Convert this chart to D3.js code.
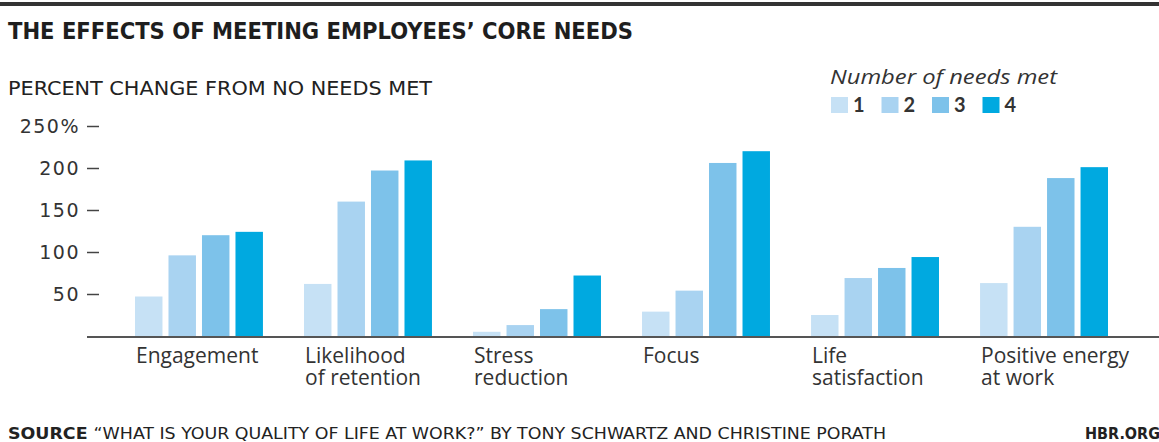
<!DOCTYPE html>
<html>
<head>
<meta charset="utf-8">
<script src="https://cdn.jsdelivr.net/npm/d3@7"></script>
<style>
  body { margin: 0; background: #fff; }
  svg { display: block; }
</style>
</head>
<body>
<svg id="chart"></svg>
<script>
var W = 1159, H = 442;

// data
var categories = [
  ["Engagement"],
  ["Likelihood", "of retention"],
  ["Stress", "reduction"],
  ["Focus"],
  ["Life", "satisfaction"],
  ["Positive energy", "at work"]
];
var series = ["1", "2", "3", "4"];
var needs1 = [47, 62, 5, 29, 25, 63];
var needs2 = [96, 160, 13, 54, 69, 130];
var needs3 = [120, 197, 32, 206, 81, 188];
var needs4 = [124, 209, 72, 220, 94, 201];
var yTicks = [50, 100, 150, 200, 250];
var colors = ["#c6e1f5", "#a9d3f1", "#7dc2ea", "#00a9e0"];

var values = [needs1, needs2, needs3, needs4];

var svg = d3.select("#chart").attr("width", W).attr("height", H);

// top rule
svg.append("rect")
  .attr("x", 0).attr("y", 2).attr("width", W).attr("height", 4)
  .attr("fill", "#333");

svg.append("text")
  .attr("x", 8).attr("y", 39)
  .attr("font-family", "DejaVu Sans Condensed, DejaVu Sans")
  .attr("font-weight", "bold")
  .attr("font-size", 23)
  .attr("fill", "#1e1e1e")
  .attr("textLength", 625)
  .attr("lengthAdjust", "spacingAndGlyphs")
  .text("THE EFFECTS OF MEETING EMPLOYEES\u2019 CORE NEEDS");

svg.append("text")
  .attr("x", 8).attr("y", 95)
  .attr("font-family", "Liberation Sans Narrow, DejaVu Sans Condensed")
  .attr("font-size", 19)
  .attr("fill", "#222")
  .attr("textLength", 424)
  .attr("lengthAdjust", "spacingAndGlyphs")
  .text("PERCENT CHANGE FROM NO NEEDS MET");

// scales
var catIdx = d3.range(categories.length);
var x0 = d3.scaleBand()
  .domain(catIdx)
  .range([135, 1108])
  .paddingInner(0.243)
  .paddingOuter(0);

var x1 = d3.scaleBand()
  .domain(d3.range(series.length))
  .range([0, x0.bandwidth()])
  .paddingInner(0.18);

var y = d3.scaleLinear()
  .domain([0, 250])
  .range([336, 126]);

// y axis
var yAxis = svg.append("g")
  .attr("transform", "translate(99,0)")
  .call(d3.axisLeft(y)
    .tickValues(yTicks)
    .tickSize(12)
    .tickPadding(7)
    .tickFormat(function (d) { return d === 250 ? d + "%" : d; }));
yAxis.select(".domain").remove();
yAxis.selectAll(".tick line").attr("stroke", "#444").attr("stroke-width", 1.5);
yAxis.selectAll(".tick text")
  .attr("font-family", "DejaVu Sans")
  .attr("font-size", 19)
  .attr("letter-spacing", 1.5)
  .attr("fill", "#333");

// bars
var groups = svg.append("g").selectAll("g")
  .data(catIdx)
  .join("g")
  .attr("transform", function (i) { return "translate(" + x0(i) + ",0)"; });

groups.selectAll("rect")
  .data(function (i) { return values.map(function (s, k) { return { k: k, v: s[i] }; }); })
  .join("rect")
  .attr("x", function (d) { return x1(d.k); })
  .attr("y", function (d) { return y(d.v); })
  .attr("width", x1.bandwidth())
  .attr("height", function (d) { return y(0) - y(d.v); })
  .attr("fill", function (d) { return colors[d.k]; });

// baseline
svg.append("line")
  .attr("x1", 87).attr("x2", W)
  .attr("y1", y(0) + 1).attr("y2", y(0) + 1)
  .attr("stroke", "#555").attr("stroke-width", 2);

// category labels, one text per line
catIdx.forEach(function (i) {
  svg.append("g").selectAll("text")
    .data(categories[i])
    .join("text")
    .attr("x", x0(i) + 1)
    .attr("y", function (d, j) { return 363 + j * 22; })
    .attr("font-family", "Open Sans, Noto Sans")
    .attr("font-size", 21)
    .attr("fill", "#333")
    .text(function (d) { return d; });
});

// legend
svg.append("text")
  .attr("x", 830).attr("y", 84)
  .attr("font-family", "Open Sans, Noto Sans")
  .attr("font-style", "italic")
  .attr("font-size", 20)
  .attr("fill", "#333")
  .attr("textLength", 227)
  .attr("lengthAdjust", "spacingAndGlyphs")
  .text("Number of needs met");

var legend = svg.append("g").selectAll("g")
  .data(series)
  .join("g")
  .attr("transform", function (d, k) { return "translate(" + (831 + k * 50.5) + ",97)"; });
legend.append("rect")
  .attr("width", 17).attr("height", 16)
  .attr("fill", function (d, k) { return colors[k]; });
legend.append("text")
  .attr("x", 22).attr("y", 15)
  .attr("font-family", "Lato, Noto Sans")
  .attr("font-size", 20)
  .attr("font-weight", "bold")
  .attr("fill", "#333")
  .text(function (d) { return d; });

// source line
var src = svg.append("text")
  .attr("x", 8).attr("y", 439)
  .attr("font-family", "Liberation Sans Narrow, DejaVu Sans Condensed")
  .attr("font-size", 16)
  .attr("fill", "#222")
  .attr("textLength", 878)
  .attr("lengthAdjust", "spacingAndGlyphs");
src.append("tspan").attr("font-weight", "bold").text("SOURCE ");
src.append("tspan").text("\u201CWHAT IS YOUR QUALITY OF LIFE AT WORK?\u201D BY TONY SCHWARTZ AND CHRISTINE PORATH");

svg.append("text")
  .attr("x", 1085).attr("y", 439)
  .attr("font-family", "Liberation Sans Narrow, DejaVu Sans Condensed")
  .attr("font-size", 16)
  .attr("font-weight", "bold")
  .attr("fill", "#222")
  .text("HBR.ORG");
</script>
</body>
</html>
